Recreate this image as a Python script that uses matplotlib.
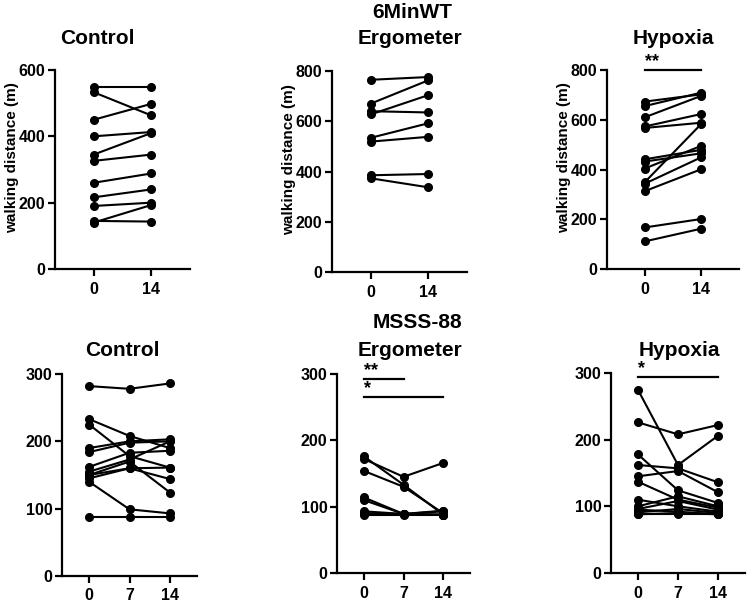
import matplotlib.pyplot as plt

plt.rcParams['font.family'] = 'Liberation Sans'
plt.rcParams['font.weight'] = 'bold'
plt.rcParams['axes.labelweight'] = 'bold'

days_walk = ['0', '14']
days_msss = ['0', '7', '14']

# 6MinWT walking distance (m), one row per subject: day 0, day 14
walk_control = [[550, 550], [533, 463], [450, 498], [400, 413], [345, 410], [326, 345],
                [260, 288], [216, 240], [190, 200], [145, 143], [140, 193]]
walk_ergometer = [[765, 776], [670, 763], [640, 635], [627, 704], [534, 592], [519, 538],
                  [385, 390], [373, 337]]
walk_hypoxia = [[673, 702], [655, 709], [610, 696], [573, 623], [567, 588], [441, 479],
                [432, 465], [404, 495], [349, 583], [343, 449], [313, 401], [167, 201],
                [111, 162]]

# MSSS-88 score, one row per subject: day 0, day 7, day 14
msss_control = [[282, 278, 286], [233, 208, 190], [225, 178, 161], [190, 200, 203],
                [184, 198, 200], [162, 183, 186], [155, 173, 200], [150, 160, 161],
                [145, 160, 144], [150, 170, 124], [140, 99, 93], [88, 88, 88]]
msss_ergometer = [[172, 145, 166], [176, 133, 88], [154, 130, 90], [114, 89, 88],
                  [110, 89, 93], [93, 89, 94], [88, 88, 88], [90, 89, 88]]
msss_hypoxia = [[275, 162, 206], [226, 208, 222], [178, 124, 105], [162, 157, 136],
                [145, 153, 121], [137, 110, 98], [110, 100, 92], [100, 115, 100],
                [96, 108, 95], [91, 96, 90], [88, 90, 88], [88, 88, 88], [95, 92, 88]]

W, H = 749, 602
fig = plt.figure(figsize=(W / 100, H / 100), dpi=100)


def panel(box, rows, days, ymax, ystep, ylabel=None):
    # box in pixels: left, top, right, bottom
    l, t, r, b = box
    ax = fig.add_axes([l / W, 1 - b / H, (r - l) / W, (b - t) / H])
    x = list(range(len(days)))
    for row in rows:
        ax.plot(x, row, color='black', lw=1.5, marker='o', ms=5.5, clip_on=False)
    pad = 0.67
    ax.set_xlim(-pad, len(days) - 1 + pad)
    ax.set_ylim(0, ymax)
    ax.set_xticks(x)
    ax.set_xticklabels(days)
    ax.set_yticks(range(0, ymax + 1, ystep))
    for s in ['top', 'right']:
        ax.spines[s].set_visible(False)
    for s in ['left', 'bottom']:
        ax.spines[s].set_linewidth(1.6)
    ax.tick_params(width=1.6, length=5, labelsize=11.5)
    ax.tick_params(axis='x', pad=4)
    ax.tick_params(axis='y', pad=2)
    if ylabel:
        ax.set_ylabel(ylabel, fontsize=11, labelpad=0)
        ax.yaxis.set_label_coords(-0.27, 0.56)
    return ax


def sig(ax, x0, x1, y, label):
    ax.plot([x0, x1], [y, y], color='black', lw=1.6, clip_on=False)
    ax.text(x0, y, label, fontsize=13, ha='left', va='bottom', clip_on=False)


ylab = 'walking distance (m)'
panel((55, 70, 190, 269), walk_control, days_walk, 600, 200, ylab)
panel((332, 71, 467, 272), walk_ergometer, days_walk, 800, 200, ylab)
ax = panel((607, 70, 739, 269), walk_hypoxia, days_walk, 800, 200, ylab)
sig(ax, 0, 1, 800, '**')

panel((62, 374, 197, 576), msss_control, days_msss, 300, 100)
ax = panel((337, 374, 470, 573), msss_ergometer, days_msss, 300, 100)
sig(ax, 0, 1, 292, '**')
sig(ax, 0, 2, 265, '*')
ax = panel((611, 373, 745, 573), msss_hypoxia, days_msss, 300, 100)
sig(ax, 0, 2, 294, '*')


def title(px, py, s):
    fig.text(px / W, 1 - py / H, s, fontsize=15, ha='center', va='center')


title(97, 38, 'Control')
title(412, 12, '6MinWT')
title(410, 38, 'Ergometer')
title(673, 38, 'Hypoxia')
title(122, 351, 'Control')
title(417, 323, 'MSSS-88')
title(410, 350, 'Ergometer')
title(679, 351, 'Hypoxia')

fig.savefig('out.png', dpi=100)
